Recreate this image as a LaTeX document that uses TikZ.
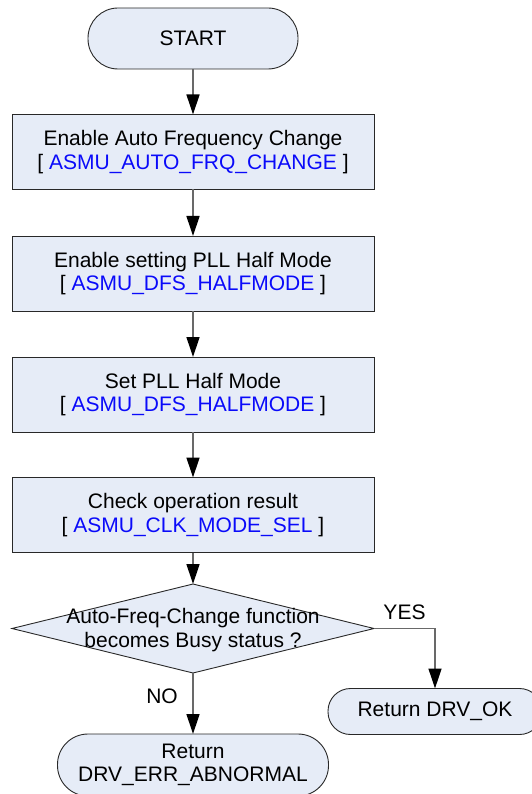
\documentclass[tikz,border=0pt]{standalone}
\usepackage{fontspec}
\setmainfont{Liberation Sans}
\usetikzlibrary{shapes.geometric,arrows.meta}

\definecolor{boxfill}{RGB}{230,236,247}
\definecolor{regblue}{RGB}{10,10,250}
\definecolor{linkgray}{RGB}{105,105,105}
\definecolor{edgedark}{RGB}{40,40,40}

\tikzset{
  base/.style={fill=boxfill, draw=edgedark, line width=0.9pt, inner sep=0pt, outer sep=0pt,
    font=\fontsize{21}{23.5}\selectfont, align=center},
  terminal/.style={base, rectangle},
  process/.style={base, rectangle, minimum width=362pt, minimum height=75pt},
  decision/.style={base, diamond, minimum width=362pt, minimum height=89pt},
  plain/.style={font=\fontsize{21}{23.5}\selectfont, align=center, inner sep=0pt},
  flow/.style={draw=linkgray, line width=1.3pt,
    -{Triangle[length=20pt,width=13pt,color=black]}},
}
\newcommand{\reg}[1]{[ \textcolor{regblue}{#1} ]}

\begin{document}
\begin{tikzpicture}[x=1pt,y=-1pt]
\useasboundingbox (0,0) rectangle (531,794);

% start terminal
\node[terminal, minimum width=210pt, minimum height=61pt, rounded corners=30pt] (start) at (193,38.5) {START};

% processing steps
\node[process] (s1) at (193,152) {Enable Auto Frequency Change\\\reg{ASMU\_AUTO\_FRQ\_CHANGE}};
\node[process] (s2) at (193,273.5) {Enable setting PLL Half Mode\\\reg{ASMU\_DFS\_HALFMODE}};
\node[process] (s3) at (193,394.5) {Set PLL Half Mode\\\reg{ASMU\_DFS\_HALFMODE}};
\node[process] (s4) at (193,515) {Check operation result\\\reg{ASMU\_CLK\_MODE\_SEL}};

% decision
\node[decision] (dec) at (193,628.5) {};
\node[plain] (dectext) at (193,630) {Auto-Freq-Change function\\becomes Busy status ?};

% end terminals
\node[terminal, minimum width=214pt, minimum height=46pt, rounded corners=22.5pt] (ok) at (435,711.5) {Return DRV\_OK};
\node[terminal, minimum width=271pt, minimum height=62pt, rounded corners=30.5pt] (abn) at (193,765) {Return\\DRV\_ERR\_ABNORMAL};

% connectors
\draw[flow] (start) -- (s1);
\draw[flow] (s1) -- (s2);
\draw[flow] (s2) -- (s3);
\draw[flow] (s3) -- (s4);
\draw[flow] (s4) -- (dec);
\draw[flow] (dec.east) -| (ok.north);
\draw[flow] (dec.south) -- (abn.north);

% branch labels
\node[plain] (yes) at (404.5,612) {YES};
\node[plain] (no) at (162,696) {NO};
\end{tikzpicture}
\end{document}
